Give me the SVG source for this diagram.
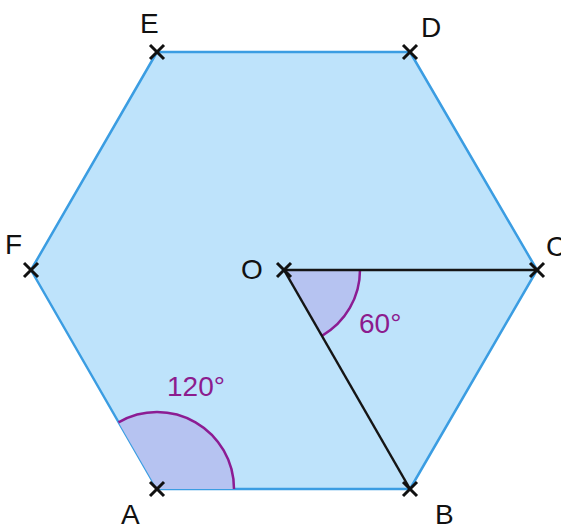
<svg xmlns="http://www.w3.org/2000/svg" width="561" height="524" viewBox="0 0 561 524">
<style>
.hex{fill:#bee3fb;stroke:#3b9de2;stroke-width:2.5;stroke-linejoin:round}
.sector{fill:#b6c3f1;stroke:none}
.arc{fill:none;stroke:#8c1c93;stroke-width:2.5}
.seg{stroke:#151515;stroke-width:2.5;fill:none}
.x{stroke:#111;stroke-width:3;stroke-linecap:butt}
.lbl{font-family:"Liberation Sans",Arial,sans-serif;font-size:28px;fill:#111}
.ang{font-family:"Liberation Sans",Arial,sans-serif;font-size:28px;fill:#8c1c8e}
</style>
<defs>
<g id="cross"><line class="x" x1="-7" y1="-7" x2="7" y2="7"/><line class="x" x1="-7" y1="7" x2="7" y2="-7"/></g>
</defs>
<g id="hexagon">
<polygon class="hex" points="157,489 410,489 537,270 410,52 157,52 31,270"/>
</g>
<g id="angles">
<path class="sector" d="M157,489 L234,489 A77,77 0 0 0 118.5,422.3 Z"/>
<path class="arc" d="M234,489 A77,77 0 0 0 118.5,422.3"/>
<path class="sector" d="M284,270 L360,270 A76,76 0 0 1 322,335.8 Z"/>
<path class="arc" d="M360,270 A76,76 0 0 1 322,335.8"/>
</g>
<g id="connectors">
<line class="seg" x1="284" y1="270" x2="537" y2="270"/>
<line class="seg" x1="284" y1="270" x2="410" y2="489"/>
</g>
<g id="points">
<g id="A"><use href="#cross" x="157" y="489"/><text class="lbl" x="121" y="524">A</text></g>
<g id="B"><use href="#cross" x="410" y="489"/><text class="lbl" x="435" y="524">B</text></g>
<g id="C"><use href="#cross" x="537" y="270"/><text class="lbl" x="546" y="256">C</text></g>
<g id="D"><use href="#cross" x="410" y="52"/><text class="lbl" x="421" y="37">D</text></g>
<g id="E"><use href="#cross" x="157" y="52"/><text class="lbl" x="140" y="33">E</text></g>
<g id="F"><use href="#cross" x="31" y="270"/><text class="lbl" x="5" y="254">F</text></g>
<g id="O"><use href="#cross" x="284" y="270"/><text class="lbl" x="241" y="279">O</text></g>
</g>
<g id="labels">
<text class="ang" x="167" y="396">120°</text>
<text class="ang" x="359" y="333">60°</text>
</g>
</svg>
